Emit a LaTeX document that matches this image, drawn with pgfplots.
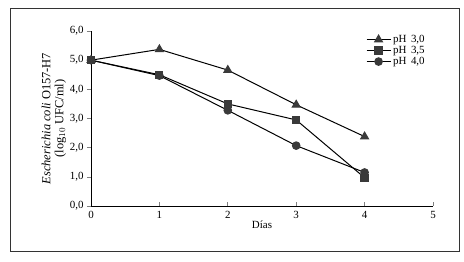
\documentclass[border=0pt]{standalone}
\usepackage{pgfplots}
\pgfplotsset{compat=1.18}
\usepackage{fontspec}
\setmainfont{Liberation Serif}
\definecolor{mk}{HTML}{3A3A3A}
\begin{document}
\begin{tikzpicture}
\path (-91bp,-56bp) rectangle (373bp,206bp);
\draw[line width=0.8bp,black!80] (-81bp,-45bp) rectangle (368bp,198bp);
\begin{axis}[
  at={(0,0)}, anchor=south west,
  scale only axis, width=342bp, height=175bp,
  xmin=0, xmax=5, ymin=0, ymax=6,
  axis lines=left, axis line style={-, line width=0.8bp},
  xtick={0,1,2,3,4,5}, ytick={0,1,2,3,4,5,6},
  tick align=outside, major tick length=4bp,
  x tick style={yshift=4bp, line width=0.6bp},
  y tick style={line width=0.6bp},
  /pgf/number format/assume math mode=true,
  yticklabel style={/pgf/number format/.cd, fixed, fixed zerofill, precision=1, use comma},
  ticklabel style={font=\fontsize{11}{13}\selectfont},
  xticklabel style={yshift=2bp},
  xlabel={Días},
  xlabel style={font=\fontsize{11}{13}\selectfont, yshift=5bp},
  ylabel={\shortstack{\textit{Escherichia coli} O157-H7\\[1bp](log$_{10}$ UFC/ml)}},
  ylabel style={font=\fontsize{12.5}{14}\selectfont, yshift=-3bp},
  legend style={draw=none, fill=none, at={(0.795,0.995)}, anchor=north west,
    font=\fontsize{11}{13}\selectfont, row sep=0bp,
    nodes={inner ysep=0.5bp, text height=7.5bp, text depth=2.5bp}},
  legend cell align=left,
  legend image code/.code={
    \draw[mark repeat=2,mark phase=2] plot coordinates {(0bp,0bp) (12bp,0bp) (24bp,0bp)};},
  every axis plot/.append style={line width=1bp, black},
]
\addplot[mark=triangle*, mark size=4.5bp, mark options={fill=mk, draw=mk}] coordinates {(0,5.0) (1,5.37) (2,4.66) (3,3.47) (4,2.38)};
\addlegendentry{pH\, 3,0}
\addplot[mark=square*, mark size=3.6bp, mark options={fill=mk, draw=mk}] coordinates {(0,5.0) (1,4.5) (2,3.5) (3,2.95) (4,0.97)};
\addlegendentry{pH\, 3,5}
\addplot[mark=*, mark size=3.8bp, mark options={fill=mk, draw=mk}] coordinates {(0,5.0) (1,4.47) (2,3.28) (3,2.07) (4,1.15)};
\addlegendentry{pH\, 4,0}
\end{axis}
\end{tikzpicture}
\end{document}
